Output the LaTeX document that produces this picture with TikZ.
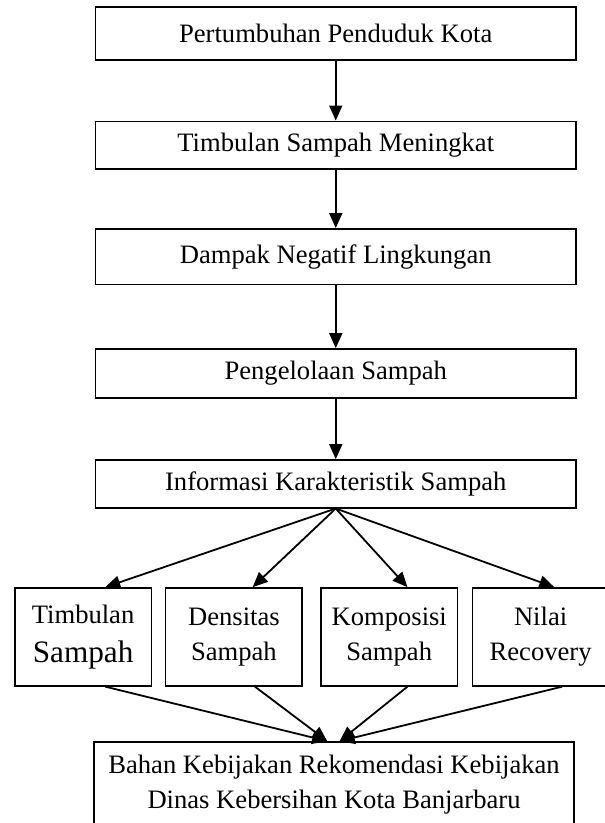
\documentclass[tikz,border=0pt]{standalone}
\usepackage{fontspec}
\setmainfont{Liberation Serif}
\usetikzlibrary{arrows.meta}

\begin{document}
\begin{tikzpicture}[>={Triangle[length=7.5pt,width=6.5pt]},x=1cm,y=1cm,
    font={\fontsize{13.3}{17.5}\selectfont},
    kotak/.style={draw,line width=0.8pt,minimum width=8.45cm,inner sep=0pt},
    kecil/.style={draw,line width=0.8pt,minimum width=2.40cm,
        minimum height=1.72cm,align=center,inner sep=0pt},
    panah/.style={->,line width=0.9pt}]
    \useasboundingbox (0,0) rectangle (10.614,14.462);

    % alur utama
    \node[kotak,minimum height=0.93cm] (tumbuh) at (5.90,13.87) {Pertumbuhan Penduduk Kota};
    \node[kotak,minimum height=0.84cm] (naik) at (5.90,11.91) {Timbulan Sampah Meningkat};
    \node[kotak,minimum height=0.98cm] (dampak) at (5.90,9.95) {Dampak Negatif Lingkungan};
    \node[kotak,minimum height=0.86cm] (kelola) at (5.90,7.90) {Pengelolaan Sampah};
    \node[kotak,minimum height=0.84cm] (info) at (5.90,5.96) {Informasi Karakteristik Sampah};

    \draw[panah] (tumbuh) -- (naik);
    \draw[panah] (naik) -- (dampak);
    \draw[panah] (dampak) -- (kelola);
    \draw[panah] (kelola) -- (info);

    % karakteristik
    \node[kecil] (tbl) at (1.46,3.27)
        {Timbulan\\[2pt]{\fontsize{15.6}{19.5}\selectfont Sampah}};
    \node[kecil] (dns) at (4.11,3.27) {Densitas\\Sampah};
    \node[kecil] (kmp) at (6.84,3.27) {Komposisi\\Sampah};
    \node[kecil] (nilai) at (9.50,3.27) {Nilai\\Recovery};

    \foreach \n/\dx in {tbl/0.39,dns/0.33,kmp/0.32,nilai/0.24}
        \draw[panah] (info.south) -- ([xshift=\dx cm]\n.north);

    \node[draw,line width=0.8pt,minimum width=8.44cm,minimum height=1.49cm,
        align=center,inner sep=0pt] (bahan) at (5.87,0.68)
        {Bahan Kebijakan Rekomendasi Kebijakan\\Dinas Kebersihan Kota Banjarbaru};

    \foreach \n/\dx/\ex in {tbl/0.39/-0.12,dns/0.37/-0.12,kmp/0.32/0.10,nilai/0.38/0.10}
        \draw[panah] ([xshift=\dx cm]\n.south) -- ([xshift=\ex cm]bahan.north);
\end{tikzpicture}
\end{document}
